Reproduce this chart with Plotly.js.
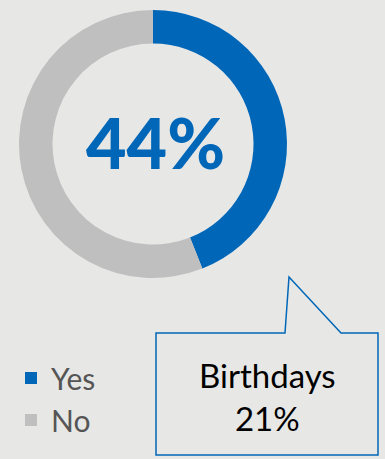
<!DOCTYPE html>
<html>
<head>
<meta charset="utf-8">
<script src="https://cdn.plot.ly/plotly-3.0.1.min.js"></script>
<style>html,body{margin:0;padding:0;background:#e7e7e6;}#chart{width:385px;height:459px;}</style>
</head>
<body>
<div id="chart"></div>
<script>
const categories = ["Yes", "No"];
const values = [44, 56];
const colors = ["#0067b8", "#bfbfbf"];
const centerLabel = "44%";
const calloutLabel = "Birthdays";
const calloutValue = "21%";

const W = 385, H = 459;
const px = x => x / W;
const py = y => 1 - y / H;

const trace = {
  type: "pie",
  labels: categories,
  values: values,
  marker: { colors: colors, line: { width: 0 } },
  hole: 0.75,
  sort: false,
  direction: "clockwise",
  rotation: 0,
  textinfo: "none",
  hoverinfo: "label+percent",
  domain: { x: [px(19), px(287)], y: [py(278), py(10)] }
};

const calloutPath = "M " + px(156) + " " + py(333) +
  " L " + px(285) + " " + py(333) +
  " L " + px(289) + " " + py(277) +
  " L " + px(341) + " " + py(333) +
  " L " + px(378) + " " + py(333) +
  " L " + px(378) + " " + py(455) +
  " L " + px(156) + " " + py(455) + " Z";

const layout = {
  width: W, height: H,
  margin: { l: 0, r: 0, t: 0, b: 0 },
  paper_bgcolor: "#e7e7e6",
  plot_bgcolor: "#e7e7e6",
  showlegend: true,
  legend: {
    x: px(11), y: py(352), xanchor: "left", yanchor: "top",
    bgcolor: "rgba(0,0,0,0)",
    font: { family: "Lato, sans-serif", size: 30, color: "#555555" },
    itemclick: false
  },
  shapes: [{
    type: "path", xref: "paper", yref: "paper",
    path: calloutPath,
    fillcolor: "#e7e7e6",
    line: { color: "#0067b8", width: 1.5 }
  }],
  annotations: [
    {
      xref: "paper", yref: "paper", x: px(155), y: py(142),
      text: centerLabel, showarrow: false,
      font: { family: "Lato, sans-serif", size: 70, weight: 900, color: "#0067b8" },
      xanchor: "center", yanchor: "middle"
    },
    {
      xref: "paper", yref: "paper", x: px(267), y: py(396),
      text: calloutLabel + "<br>" + calloutValue, showarrow: false,
      font: { family: "Lato, sans-serif", size: 33, color: "#000000" },
      xanchor: "center", yanchor: "middle"
    }
  ]
};

Plotly.newPlot("chart", [trace], layout, { displayModeBar: false, staticPlot: true });
</script>
</body>
</html>
